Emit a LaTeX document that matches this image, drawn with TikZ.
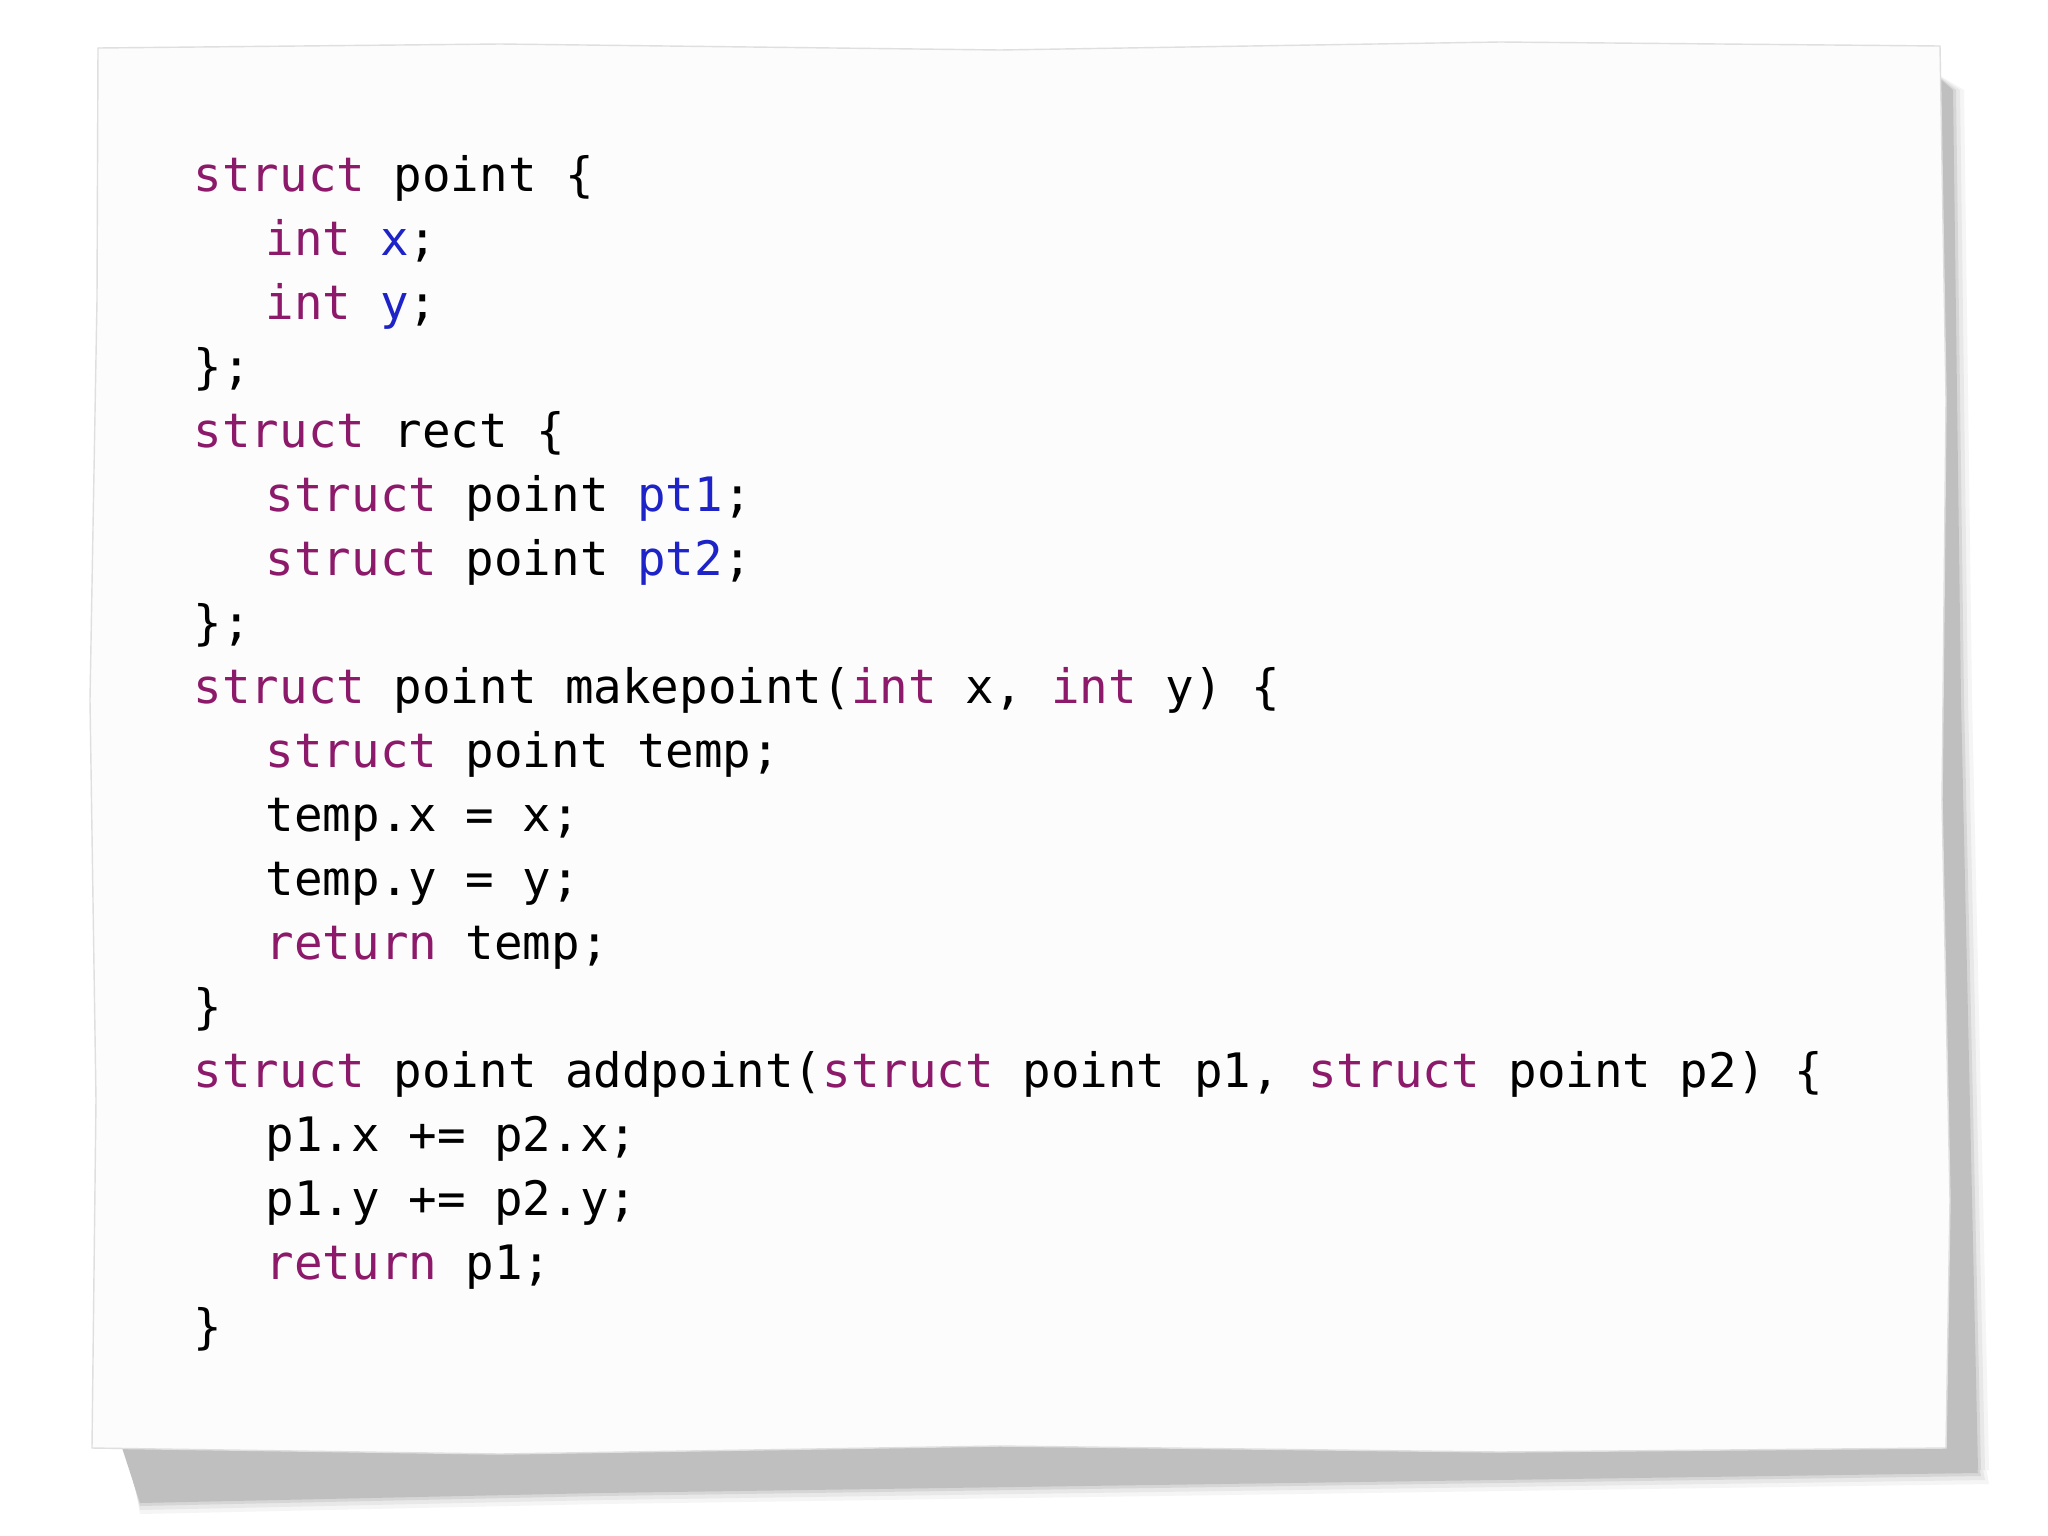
\documentclass[tikz,border=0pt]{standalone}
\usepackage{fontspec}
\setmonofont{DejaVu Sans Mono}
\definecolor{kwc}{RGB}{140,25,105}
\definecolor{vrc}{RGB}{30,35,200}
\definecolor{paper}{RGB}{252,252,253}
\newcommand{\kw}[1]{\textcolor{kwc}{#1}}
\newcommand{\vr}[1]{\textcolor{vrc}{#1}}
\begin{document}
\begin{tikzpicture}[x=0.01cm,y=-0.01cm,
  code/.style={anchor=mid west,inner sep=0pt,font=\ttfamily\fontsize{13.5}{16}\selectfont}]
\useasboundingbox (0,0) rectangle (2048,1536);
\fill[white] (0,0) rectangle (2048,1536);
% shadow
\foreach \o/\c in {14/gray!8,10/gray!18,6/gray!32,3/gray!50}{
\fill[\c] (110+\o,1420) -- (1960+\o,1405) -- (1975+\o,1470+\o) -- (600,1490+\o) -- (140,1500+\o) -- cycle;
\fill[\c] (1930,70) -- (1950+\o,90) -- (1958+\o,700) -- (1975+\o,1470) -- (1930,1470) -- cycle;
}
% paper
\fill[paper,draw=gray!25] (98,48) -- (500,44) -- (1000,50) -- (1500,42) -- (1940,46)
  -- (1946,400) -- (1942,800) -- (1950,1200) -- (1946,1448)
  -- (1500,1452) -- (1000,1446) -- (500,1454) -- (92,1448)
  -- (96,1100) -- (90,700) -- (97,300) -- cycle;
\def\L{193}\def\I{265}
\begin{scope}[yshift=-0.1cm]
\node[code] (l1) at (\L,174) {\kw{struct} point \{};
\node[code] (l2) at (\I,238) {\kw{int} \vr{x};};
\node[code] (l3) at (\I,302) {\kw{int} \vr{y};};
\node[code] (l4) at (\L,366) {\};};
\node[code] (l5) at (\L,430) {\kw{struct} rect \{};
\node[code] (l6) at (\I,494) {\kw{struct} point \vr{pt1};};
\node[code] (l7) at (\I,558) {\kw{struct} point \vr{pt2};};
\node[code] (l8) at (\L,622) {\};};
\node[code] (l9) at (\L,686) {\kw{struct} point makepoint(\kw{int} x, \kw{int} y) \{};
\node[code] (l10) at (\I,750) {\kw{struct} point temp;};
\node[code] (l11) at (\I,814) {temp.x = x;};
\node[code] (l12) at (\I,878) {temp.y = y;};
\node[code] (l13) at (\I,942) {\kw{return} temp;};
\node[code] (l14) at (\L,1006) {\}};
\node[code] (l15) at (\L,1070) {\kw{struct} point addpoint(\kw{struct} point p1, \kw{struct} point p2) \{};
\node[code] (l16) at (\I,1134) {p1.x += p2.x;};
\node[code] (l17) at (\I,1198) {p1.y += p2.y;};
\node[code] (l18) at (\I,1262) {\kw{return} p1;};
\node[code] (l19) at (\L,1326) {\}};
\end{scope}
\end{tikzpicture}
\end{document}
